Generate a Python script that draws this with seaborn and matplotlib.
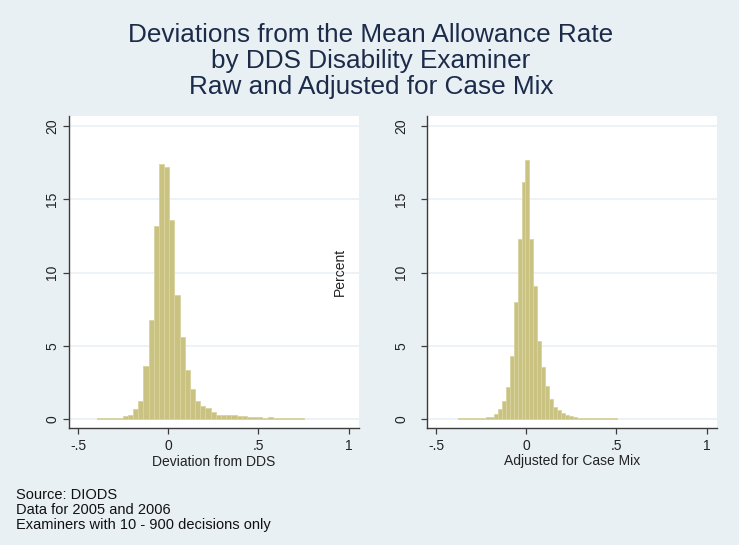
import numpy as np
import pandas as pd
import matplotlib
matplotlib.use("Agg")
import matplotlib.pyplot as plt
import seaborn as sns

# ---- data (percent of examiners per bin) ----
raw_start = -0.396
raw_width = 0.0287
raw_pct = [0.07, 0.07, 0.07, 0.07, 0.08, 0.23, 0.32, 0.73, 1.25, 3.65,
           6.8, 13.2, 17.4, 17.2, 13.6, 8.5, 5.6, 3.35, 2.05, 1.25,
           0.93, 0.77, 0.52, 0.32, 0.3, 0.3, 0.27, 0.2, 0.23, 0.16,
           0.15, 0.13, 0.11, 0.15, 0.07, 0.07, 0.07, 0.07, 0.07, 0.07]

adj_start = -0.378
adj_width = 0.022
adj_pct = [0.05, 0.05, 0.05, 0.05, 0.05, 0.06, 0.1, 0.13, 0.17, 0.33,
           0.68, 1.25, 2.2, 4.3, 8.0, 12.3, 16.2, 17.65, 12.3, 9.1,
           5.35, 3.53, 2.25, 1.41, 0.8, 0.64, 0.44, 0.31, 0.22, 0.15,
           0.1, 0.06, 0.05, 0.05, 0.05, 0.05, 0.05, 0.05, 0.05, 0.05]

x_ticks = [-0.5, 0, 0.5, 1]
x_ticklabels = ["-.5", "0", ".5", "1"]
y_ticks = [0, 5, 10, 15, 20]
y_ticklabels = ["0", "5", "10", "15", "20"]

title_lines = ["Deviations from the Mean Allowance Rate",
               "by DDS Disability Examiner",
               "Raw and Adjusted for Case Mix"]
xlabels = ["Deviation from DDS", "Adjusted for Case Mix"]
notes = ["Source: DIODS", "Data for 2005 and 2006",
         "Examiners with 10 - 900 decisions only"]

# ---- style ----
BG = "#E9F0F3"
BAR = "#C9C280"
BAR_EDGE = "#D9D49F"
AXC = "#3C3C3C"
TITLE_C = "#1C2B4A"

sns.set_style("white")
plt.rcParams["font.family"] = ["Liberation Sans", "DejaVu Sans"]

W, H = 739, 545
fig = plt.figure(figsize=(W / 100, H / 100), dpi=100, facecolor=BG)

def frac_rect(x0, y0, x1, y1):
    return [x0 / W, 1 - y1 / H, (x1 - x0) / W, (y1 - y0) / H]

axes = [fig.add_axes(frac_rect(69, 116, 359, 428)),
        fig.add_axes(frac_rect(427, 116, 717, 428))]

series = [(raw_start, raw_width, raw_pct), (adj_start, adj_width, adj_pct)]
ypads = [3.0, 9.5]

for i, (ax, (st, wd, pct)) in enumerate(zip(axes, series)):
    ax.set_facecolor("white")
    edges = [st + wd * k for k in range(len(pct) + 1)]
    centers = [(edges[k] + edges[k + 1]) / 2 for k in range(len(pct))]
    df = pd.DataFrame({"x": centers, "pct": pct})
    for yv in y_ticks:
        ax.axhline(yv, color=BG, lw=1.2, zorder=0)
    sns.histplot(data=df, x="x", weights="pct", bins=edges, ax=ax,
                 stat="count", color=BAR, edgecolor=BAR_EDGE, linewidth=0.6,
                 alpha=1, zorder=2)
    ax.set_xlim(-0.55, 1.058)
    ax.set_ylim(-0.6, 20.68)
    ax.set_xticks(x_ticks)
    ax.set_xticklabels(x_ticklabels)
    ax.set_yticks(y_ticks)
    ax.set_yticklabels(y_ticklabels, rotation=90, va="center")
    for s in ["top", "right"]:
        ax.spines[s].set_visible(False)
    for s in ["left", "bottom"]:
        ax.spines[s].set_color(AXC)
        ax.spines[s].set_linewidth(1.0)
    ax.tick_params(axis="both", direction="out", length=4, width=0.9,
                   color=AXC, labelcolor="#222222", labelsize=10,
                   left=True, bottom=True)
    ax.tick_params(axis="y", pad=ypads[i])
    ax.tick_params(axis="x", pad=4.2)
    ax.set_xlabel(xlabels[i], fontsize=10, color="#222222", labelpad=0.8)
    ax.set_ylabel("")
    ax.grid(False)

# "Percent" title of the right panel (sits to the left of its ticks)
axes[1].set_ylabel("Percent", fontsize=10, color="#222222")
axes[1].yaxis.set_label_coords(-80 / 290, 0.5)

# title
for j, line in enumerate(title_lines):
    fig.text(371 / W, 1 - (42.5 + 25.8 * j) / H, line, ha="center",
             va="baseline", fontsize=18.8, color=TITLE_C)

# notes
for j, line in enumerate(notes):
    fig.text(16 / W, 1 - (499 + 15.2 * j) / H, line, ha="left",
             va="baseline", fontsize=10.5, color="#111111")

fig.savefig("out.png", dpi=100, facecolor=BG)
